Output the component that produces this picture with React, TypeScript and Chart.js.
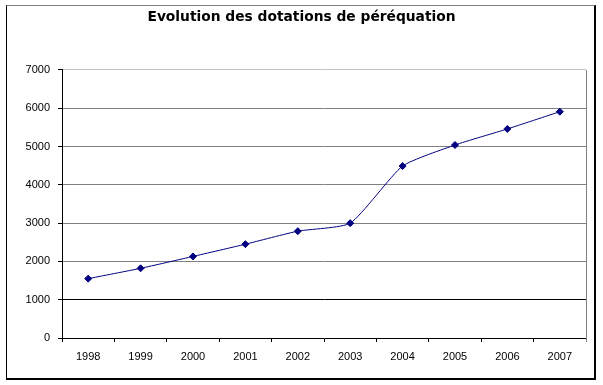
import React, { useEffect, useRef } from "react";
import { Chart, registerables } from "chart.js";

Chart.register(...registerables);

const TITLE = "Evolution des dotations de péréquation";
const YEARS = ["1998", "1999", "2000", "2001", "2002", "2003", "2004", "2005", "2006", "2007"];
const VALUES = [1550, 1820, 2130, 2450, 2790, 3000, 4490, 5040, 5460, 5910];
const Y_MIN = 0;
const Y_MAX = 7000;
const Y_STEP = 1000;

const FONT = "'Liberation Sans', Arial, sans-serif";
const TITLE_FONT = "'DejaVu Sans', 'Liberation Sans', sans-serif";

const rightBorder = {
  id: "rightBorder",
  afterDraw(chart: any) {
    const { ctx, chartArea } = chart;
    ctx.save();
    ctx.strokeStyle = "#808080";
    ctx.lineWidth = 1;
    ctx.beginPath();
    const x = Math.round(chartArea.right) + 0.5;
    ctx.moveTo(x, chartArea.top);
    ctx.lineTo(x, chartArea.bottom + 4);
    ctx.stroke();
    ctx.restore();
  },
};

export default function App() {
  const ref = useRef<HTMLCanvasElement | null>(null);

  useEffect(() => {
    if (!ref.current) return;
    const chart = new Chart(ref.current, {
      type: "line",
      data: {
        labels: YEARS,
        datasets: [
          {
            data: VALUES,
            borderColor: "#000080",
            backgroundColor: "#000080",
            borderWidth: 1,
            tension: 0.18,
            pointStyle: "rectRot",
            pointRadius: 3.5,
            pointHoverRadius: 3.5,
            pointBorderWidth: 1,
            pointBorderColor: "#000080",
            pointBackgroundColor: "#000080",
          },
        ],
      },
      options: {
        responsive: false,
        animation: false,
        layout: { padding: { left: 17, right: 17, top: 0, bottom: 0 } },
        plugins: {
          legend: { display: false },
          tooltip: { enabled: false },
          title: {
            display: true,
            text: TITLE,
            color: "#000000",
            font: { family: TITLE_FONT, size: 13.8, weight: "bold" },
            padding: { top: 9.5, bottom: 43.9 },
          },
        },
        scales: {
          x: {
            offset: true,
            grid: {
              offset: true,
              drawOnChartArea: false,
              drawTicks: true,
              tickLength: 4,
              color: "#000000",
            },
            border: { display: true, color: "#000000", width: 1 },
            ticks: {
              color: "#000000",
              font: { family: FONT, size: 11 },
              padding: 8,
              maxRotation: 0,
              autoSkip: false,
            },
            afterFit(axis: any) {
              axis.height = 47;
            },
          },
          y: {
            min: Y_MIN,
            max: Y_MAX,
            grid: {
              drawOnChartArea: true,
              drawTicks: true,
              tickLength: 4,
              tickColor: "#000000",
              color: (c: any) => {
                const v = c.tick ? c.tick.value : 0;
                if (v === 1000) return "#000000";
                if (v === Y_MAX) return "#c0c0c0";
                return "#808080";
              },
            },
            border: { display: true, color: "#000000", width: 1 },
            ticks: {
              stepSize: Y_STEP,
              color: "#000000",
              font: { family: FONT, size: 11 },
              padding: 8,
              callback: (v: any) => String(v),
            },
            afterFit(axis: any) {
              axis.width = 45;
            },
          },
        },
      },
      plugins: [rightBorder],
    });
    return () => chart.destroy();
  }, []);

  return (
    <div style={{ position: "fixed", left: 0, top: 0, width: 603, height: 385, background: "#ffffff" }}>
      <canvas ref={ref} width={603} height={385} style={{ position: "absolute", left: 0, top: 0 }} />
      <div
        style={{
          position: "absolute",
          left: 6,
          top: 5,
          width: 590,
          height: 375,
          boxSizing: "border-box",
          borderTop: "1px solid #808080",
          borderLeft: "1px solid #000000",
          borderRight: "2px solid #000000",
          borderBottom: "2px solid #000000",
          pointerEvents: "none",
        }}
      />
    </div>
  );
}
